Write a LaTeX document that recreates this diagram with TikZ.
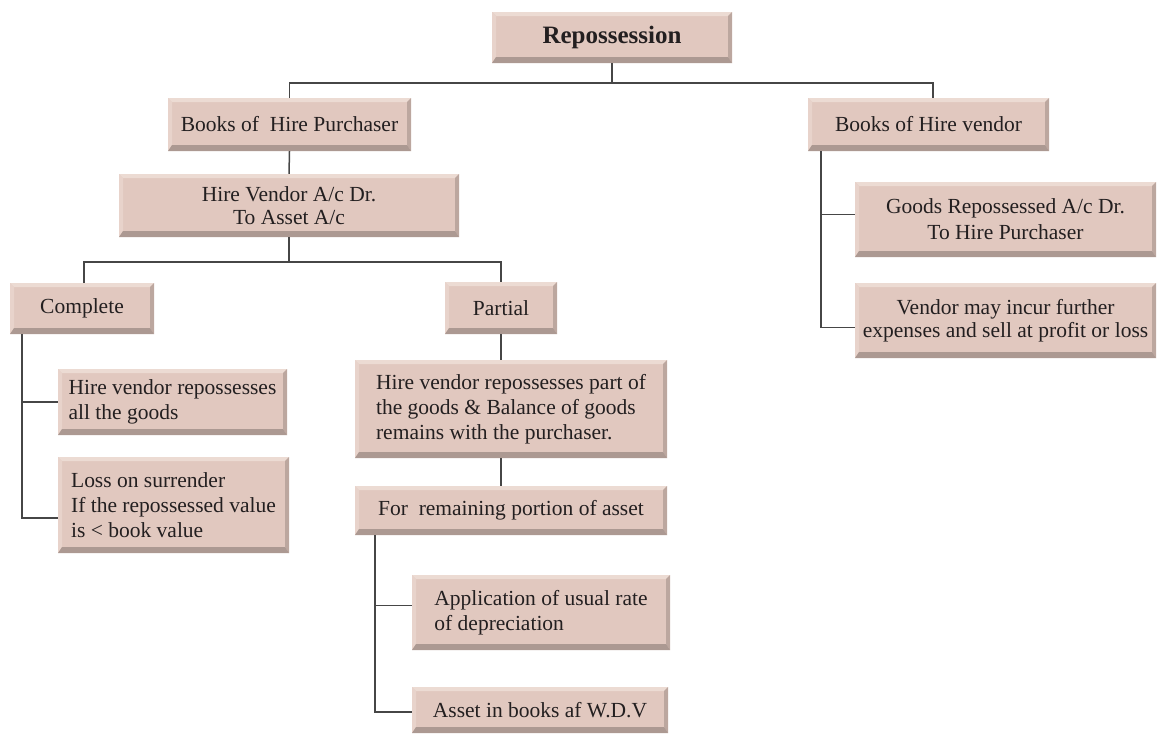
\documentclass[tikz,border=0pt]{standalone}
\usepackage{fontspec}
\setmainfont{Liberation Serif}
\usetikzlibrary{calc}

\definecolor{boxbase}{RGB}{225,200,191}
\definecolor{boxlight}{RGB}{236,219,211}
\definecolor{boxdark}{RGB}{172,153,146}
\definecolor{boxside}{RGB}{188,167,159}
\definecolor{linkgray}{RGB}{70,70,70}
\definecolor{inkcol}{RGB}{35,31,32}

\tikzset{
  card/.style={
    rectangle, inner sep=0pt, fill=boxbase, draw=none, text=inkcol,
    font=\fontsize{21.5}{25}\selectfont,
    path picture={
      % light bevel along the top and left edges
      \fill[boxlight] (path picture bounding box.north west)
        -- (path picture bounding box.north east) -- ++(-4,4)
        -- ($(path picture bounding box.north west)+(4,4)$) -- cycle;
      \fill[boxlight!60!boxbase] (path picture bounding box.north west)
        -- ($(path picture bounding box.north west)+(4,4)$)
        -- ($(path picture bounding box.south west)+(4,-6)$)
        -- (path picture bounding box.south west) -- cycle;
      % dark bevel along the right and bottom edges
      \fill[boxside] (path picture bounding box.north east)
        -- (path picture bounding box.south east) -- ++(-4,-6)
        -- ($(path picture bounding box.north east)+(-4,4)$) -- cycle;
      \fill[boxdark] (path picture bounding box.south west)
        -- (path picture bounding box.south east) -- ++(-4,-6)
        -- ($(path picture bounding box.south west)+(4,-6)$) -- cycle;
    }},
  leftcard/.style={card, align=left},
  midcard/.style={card, align=center, font=\fontsize{21.5}{22.5}\selectfont},
  link/.style={draw=linkgray, line width=1.5pt}
}

\begin{document}
\begin{tikzpicture}[x=1pt, y=-1pt]
\useasboundingbox (0,0) rectangle (1157,734);

% boxes
\node[card, minimum width=240pt, minimum height=51pt,
      font=\fontsize{25}{28}\selectfont\bfseries] (rep) at (612,37.5) {Repossession};
\node[card, minimum width=243pt, minimum height=53pt] (bhp) at (289.5,124.5) {Books of~ Hire Purchaser};
\node[card, minimum width=241pt, minimum height=53pt] (bhv) at (928.5,124.5) {Books of Hire vendor};
\node[midcard, minimum width=340pt, minimum height=63pt] (hva) at (289,205.5) {Hire Vendor A/c Dr.\\To Asset A/c};
\node[card, minimum width=144pt, minimum height=51pt] (comp) at (82,308.5) {Complete};
\node[card, minimum width=112pt, minimum height=52pt] (part) at (501,308) {Partial};
\node[leftcard, minimum width=229pt, minimum height=66pt] (hvr) at (172.5,402) {Hire vendor repossesses\\all the goods};
\node[leftcard, minimum width=231pt, minimum height=96pt] (loss) at (173.5,505) {Loss on surrender\\If the repossessed value\\is < book value};
\node[leftcard, minimum width=312pt, minimum height=98pt] (pgood) at (511,409) {Hire vendor repossesses part of\\the goods \& Balance of goods\\remains with the purchaser.};
\node[card, minimum width=312pt, minimum height=49pt] (frem) at (511,510.5) {For~ remaining portion of asset};
\node[leftcard, minimum width=258pt, minimum height=75pt] (appl) at (541,612.5) {Application of usual rate\\of depreciation};
\node[card, minimum width=256pt, minimum height=46pt] (asset) at (540,710) {Asset in books af W.D.V};
\node[midcard, minimum width=301pt, minimum height=75pt,
      font=\fontsize{21.5}{26}\selectfont] (goods) at (1005.5,219.5) {Goods Repossessed A/c Dr.\\To Hire Purchaser};
\node[midcard, minimum width=301pt, minimum height=75pt] (vend) at (1005.5,320.5) {Vendor may incur further\\expenses and sell at profit or loss};

% connectors
\draw[link] (rep.south) -- ++(0,20) -| (bhp.north);
\draw[link] (rep.south) -- ++(0,20) -| ($(bhv.north)+(4.5,0)$);
\draw[link] (bhp.south) -- (hva.north);
\draw[link] (hva.south) -- ++(0,25) -| ($(comp.north)+(2,0)$);
\draw[link] (hva.south) -- ++(0,25) -| (part.north);
\draw[link] ($(comp.south west)+(12,0)$) |- (hvr.west);
\draw[link] ($(comp.south west)+(12,0)$) |- ($(loss.west)+(0,13)$);
\draw[link] (part.south) -- (part.south |- pgood.north);
\draw[link] (pgood.south -| part.south) -- (frem.north -| part.south);
\draw[link] ($(frem.south west)+(20,0)$) |- ($(appl.west)+(0,-7)$);
\draw[link] ($(frem.south west)+(20,0)$) |- ($(asset.west)+(0,2)$);
\draw[link] ($(bhv.south west)+(13,0)$) |- ($(goods.west)+(0,-5)$);
\draw[link] ($(bhv.south west)+(13,0)$) |- ($(vend.west)+(0,7)$);
\end{tikzpicture}
\end{document}
